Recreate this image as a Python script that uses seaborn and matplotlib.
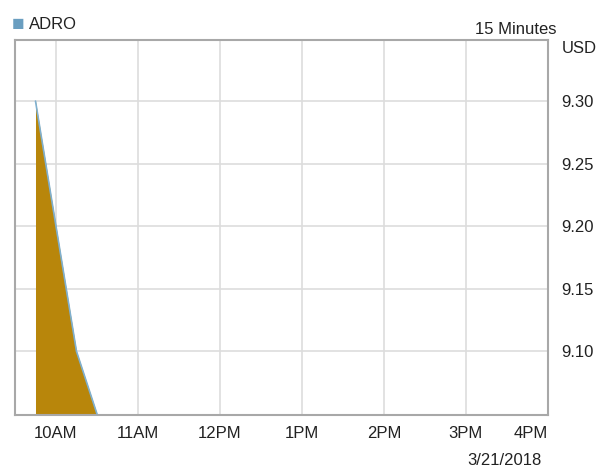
import pandas as pd
import matplotlib
matplotlib.use('Agg')
import matplotlib.pyplot as plt
import seaborn as sns

# ADRO 15 minute prices on 3/21/2018
times = ['09:45', '10:00', '10:15', '10:30']
prices = [9.30, 9.20, 9.10, 9.05]
tick_hours = ['10:00', '11:00', '12:00', '13:00', '14:00', '15:00', '16:00']
tick_labels = ['10AM', '11AM', '12PM', '1PM', '2PM', '3PM', '4PM']
y_ticks = [9.10, 9.15, 9.20, 9.25, 9.30]

day = '2018-03-21 '
df = pd.DataFrame({'time': pd.to_datetime([day + t for t in times]), 'price': prices})

sns.set_style('white')
plt.rcParams['font.family'] = ['Liberation Sans', 'DejaVu Sans']

fig = plt.figure(figsize=(6, 4.68), dpi=100)
ax = fig.add_axes([0.025, 0.113, 0.888, 0.802])

y_low, y_high = 9.049, 9.349
ax.fill_between(df['time'], df['price'], y_low, color='#b8860b', linewidth=0, zorder=2)
sns.lineplot(data=df, x='time', y='price', ax=ax, color='#7fb0d0', linewidth=1.2, zorder=3)

ax.set_xlim(pd.Timestamp(day + '09:30'), pd.Timestamp(day + '16:00'))
ax.set_ylim(y_low, y_high)

ax.set_xticks([pd.Timestamp(day + t) for t in tick_hours])
ax.set_xticklabels(tick_labels)
ax.get_xticklabels()[-1].set_horizontalalignment('right')
ax.set_yticks(y_ticks)
ax.set_yticklabels([f'{v:.2f}' for v in y_ticks])
ax.yaxis.tick_right()

ax.grid(True, color='#dddddd', linewidth=1.2, zorder=0)
ax.set_axisbelow(True)
for s in ax.spines.values():
    s.set_color('#a8a8a8')
    s.set_linewidth(1.5)

ax.tick_params(axis='x', length=4, color='#dddddd', labelsize=12, pad=4, labelcolor='#222222')
ax.tick_params(axis='y', length=0, labelsize=12, pad=10, labelcolor='#222222')
ax.set_xlabel('')
ax.set_ylabel('')

fig.text(0.020, 0.947, '\u25a0', color='#6a9ec0', fontsize=15, va='center', ha='left')
fig.text(0.049, 0.947, 'ADRO', fontsize=12, va='center', ha='left', color='#222222')
fig.text(0.928, 0.936, '15 Minutes', fontsize=12, va='center', ha='right', color='#222222')
fig.text(0.936, 0.897, 'USD', fontsize=12, va='center', ha='left', color='#222222')
fig.text(0.903, 0.016, '3/21/2018', fontsize=12, va='center', ha='right', color='#222222')

fig.savefig('out.png', dpi=100)
